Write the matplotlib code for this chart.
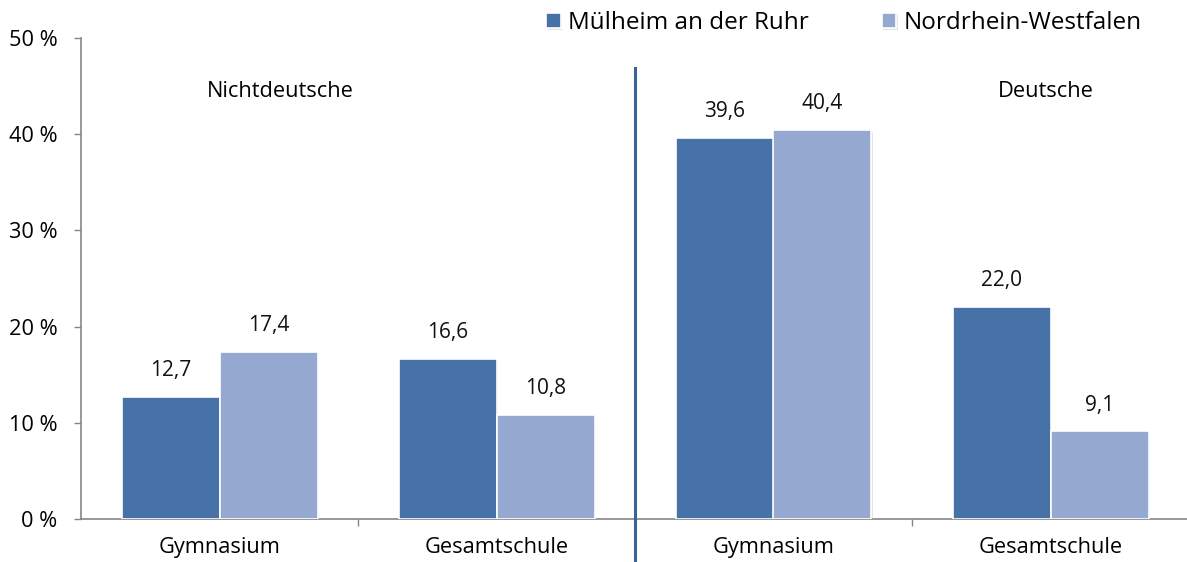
import numpy as np
import matplotlib
matplotlib.use("Agg")
import matplotlib.pyplot as plt
import matplotlib.patheffects as pe

plt.rcParams['font.family'] = ['Open Sans', 'DejaVu Sans']

# data
categories = ["Gymnasium", "Gesamtschule", "Gymnasium", "Gesamtschule"]
muelheim = [12.7, 16.6, 39.6, 22.0]
nrw = [17.4, 10.8, 40.4, 9.1]
series_names = ["Mülheim an der Ruhr", "Nordrhein-Westfalen"]
group_names = ["Nichtdeutsche", "Deutsche"]

dark = "#4672A8"
light = "#95A9D0"
grey = "#868686"
fs = 15.7

fig = plt.figure(figsize=(11.87, 5.62), dpi=100)
ax = fig.add_axes([81 / 1187, 1 - 519 / 562, 1106 / 1187, (519 - 38) / 562])

x = np.arange(len(categories))
w = 98 / 277
shadow = [pe.SimplePatchShadow(offset=(1.2, -1.2), shadow_rgbFace="#aaaaaa", alpha=0.3), pe.Normal()]
b1 = ax.bar(x - w / 2, muelheim, w, color=dark, edgecolor="white", linewidth=1.2,
            label=series_names[0], zorder=3)
b2 = ax.bar(x + w / 2, nrw, w, color=light, edgecolor="white", linewidth=1.2,
            label=series_names[1], zorder=3)
for b in list(b1) + list(b2):
    b.set_path_effects(shadow)

for bars, vals in [(b1, muelheim), (b2, nrw)]:
    for b, v in zip(bars, vals):
        ax.annotate(f"{v:.1f}".replace(".", ","), (b.get_x() + b.get_width() / 2, v),
                    xytext=(0, 19), textcoords="offset points", ha="center", va="center",
                    fontsize=15, color="#111111")

ax.set_xlim(-0.5, 3.5 - 2 / 277)
ax.set_ylim(0, 50)
ax.set_yticks(np.arange(0, 51, 10))
ax.set_yticklabels([f"{v} %" for v in range(0, 51, 10)])
ax.set_xticks(x)
ax.set_xticklabels(categories)
ax.set_xticks([0.5, 1.5, 2.5], minor=True)

ax.tick_params(axis="y", length=5, width=1, color=grey, pad=12, labelsize=fs)
ax.tick_params(axis="x", which="major", length=0, pad=13, labelsize=fs)
ax.tick_params(axis="x", which="minor", length=5, width=1, color=grey)

for s in ["top", "right"]:
    ax.spines[s].set_visible(False)
for s in ["left", "bottom"]:
    ax.spines[s].set_color(grey)
    ax.spines[s].set_linewidth(1.2)

# divider between the two groups
ax.plot([1.5, 1.5], [46.9, -5], color="#3A6499", linewidth=2.2, clip_on=False, zorder=4)

ax.text(0.218, 44.4, group_names[0], ha="center", va="center", fontsize=fs)
ax.text(2.984, 44.4, group_names[1], ha="center", va="center", fontsize=fs)

fig.legend(handles=[b1, b2], labels=series_names, loc="center left",
           bbox_to_anchor=(546 / 1187, 1 - 23 / 562), ncol=2, frameon=False,
           fontsize=17.5, handlelength=0.6, handleheight=0.6,
           handletextpad=0.3, columnspacing=3.0, borderpad=0, borderaxespad=0)

fig.savefig("out.png", dpi=100)
